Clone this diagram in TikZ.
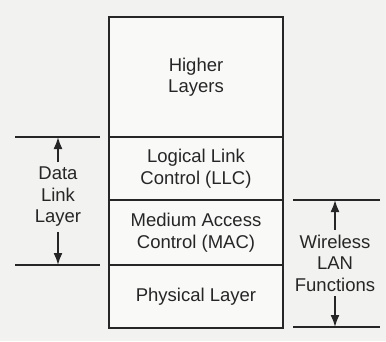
\documentclass[tikz,border=0pt]{standalone}
\usepackage{fontspec}
\setmainfont{Liberation Sans}
\usetikzlibrary{arrows.meta}
\definecolor{paper}{HTML}{F2F2F0}
\definecolor{ink}{HTML}{262626}
\tikzset{
  layer/.style={draw=ink, line width=2.2pt, minimum width=174pt, inner sep=0pt,
                align=center, text=ink, fill=white!55!paper,
                font=\fontsize{18.5}{21.5}\selectfont},
  sidetext/.style={align=center, text=ink, inner xsep=1pt, inner ysep=5pt,
                   font=\fontsize{18.5}{21.5}\selectfont},
  bound/.style={draw=ink, line width=2.2pt},
  span/.style={-{Latex[length=12pt,width=9pt]}, line width=1.8pt, draw=ink},
}

\begin{document}
\begin{tikzpicture}[x=1pt, y=-1pt]
    \useasboundingbox[fill=paper] (0,0) rectangle (386,341);
    % protocol stack
    \node[layer, minimum height=120pt] (higher) at (196,77) {Higher\\Layers};
    \node[layer, minimum height=63pt] (llc) at (196,168.5) {Logical Link\\Control (LLC)};
    \node[layer, minimum height=65pt] (mac) at (196,232.5) {Medium Access\\Control (MAC)};
    \node[layer, minimum height=63pt] (phy) at (196,296.5) {Physical Layer};
    % data link layer span
    \coordinate (dlltop) at (15,137);
    \coordinate (dllbot) at (15,265);
    \draw[bound] (dlltop) -- ++(85,0);
    \draw[bound] (dllbot) -- ++(85,0);
    \node[sidetext] (dll) at (58,197) {Data\\Link\\Layer};
    \draw[span] (dll.north) -- (dll.north |- dlltop);
    \draw[span] (dll.south) -- (dll.south |- dllbot);
    % wireless lan span
    \coordinate (wlantop) at (293,200);
    \coordinate (wlanbot) at (293,327);
    \draw[bound] (wlantop) -- ++(87,0);
    \draw[bound] (wlanbot) -- ++(87,0);
    \node[sidetext] (wlan) at (335,263) {Wireless\\LAN\\Functions};
    \draw[span] (wlan.north) -- (wlan.north |- wlantop);
    \draw[span] (wlan.south) -- (wlan.south |- wlanbot);
\end{tikzpicture}
\end{document}
